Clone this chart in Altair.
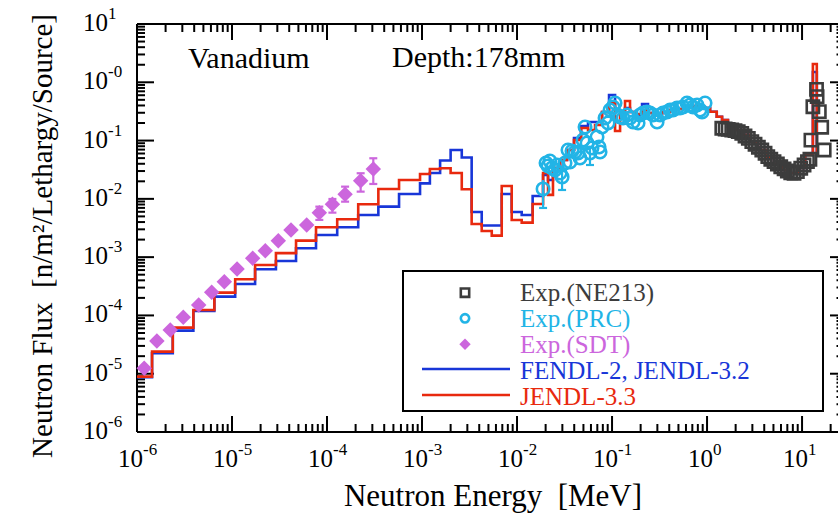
import altair as alt
import pandas as pd

# ---------------- data ----------------
# group boundaries of the calculated histograms [MeV]
edges = [1.0e-6, 1.44e-6, 2.38e-6, 3.92e-6, 6.52e-6, 1.08e-5, 1.75e-5, 2.90e-5, 4.72e-5, 7.66e-5,
         1.28e-4, 2.13e-4, 3.47e-4, 5.73e-4, 9.53e-4, 1.21e-3, 1.55e-3, 2.00e-3, 2.62e-3, 3.33e-3,
         4.25e-3, 5.42e-3, 6.90e-3, 8.79e-3, 0.0112, 0.0146, 0.0188, 0.0212, 0.0239, 0.0284,
         0.0336, 0.0398, 0.0472, 0.0559, 0.0662, 0.0785, 0.0930, 0.1076, 0.1215, 0.137,
         0.1546, 0.179, 0.207, 0.239, 0.284, 0.336, 0.408, 0.495, 0.601, 0.730,
         0.886, 1.076, 1.265, 1.439, 1.66, 1.97, 2.34, 2.84, 3.44, 4.18,
         5.07, 6.15, 7.47, 9.08, 10.8, 13.0, 14.3]

jendl33 = [8.9e-6, 2.39e-5, 6.18e-5, 1.24e-4, 2.46e-4, 4.18e-4, 7.35e-4, 1.17e-3, 1.92e-3, 3.26e-3,
           4.47e-3, 8.08e-3, 0.0148, 0.0211, 0.0267, 0.0326, 0.0335, 0.0278, 0.0146, 3.71e-3,
           2.81e-3, 2.34e-3, 0.0166, 4.35e-3, 3.91e-3, 8.18e-3, 0.0278, 0.0117, 0.0339, 0.0465,
           0.069, 0.102, 0.164, 0.152, 0.185, 0.310, 0.441, 0.146, 0.275, 0.478,
           0.310, 0.286, 0.335, 0.297, 0.286, 0.310, 0.335, 0.348, 0.377, 0.392,
           0.362, 0.313, 0.257, 0.226, 0.171, 0.152, 0.125, 0.0946, 0.069, 0.0523,
           0.0397, 0.0313, 0.0278, 0.0339, 0.0566, 2.06, 0.0566]

fendl2 = [8.7e-6, 2.25e-5, 5.48e-5, 1.19e-4, 2.10e-4, 3.47e-4, 6.20e-4, 8.61e-4, 1.42e-3, 2.40e-3,
          3.26e-3, 5.30e-3, 7.35e-3, 0.0121, 0.0184, 0.0278, 0.0456, 0.069, 0.0513, 5.96e-3,
          3.50e-3, 3.50e-3, 0.0121, 5.96e-3, 5.30e-3, 0.0112, 0.0257, 0.0211, 0.0339, 0.0465,
          0.069, 0.111, 0.178, 0.208, 0.208, 0.310, 0.605, 0.335, 0.297, 0.362,
          0.310, 0.275, 0.424, 0.297, 0.286, 0.310, 0.335, 0.348, 0.377, 0.392,
          0.362, 0.313, 0.257, 0.226, 0.171, 0.152, 0.125, 0.0946, 0.069, 0.0523,
          0.0397, 0.0313, 0.0278, 0.0339, 0.058, 1.50, 0.058]

ne213_E = [1.43, 1.55, 1.67, 1.82, 1.97, 2.13, 2.32, 2.51, 2.72, 2.96,
           3.20, 3.47, 3.77, 4.08, 4.36, 4.69, 5.07, 5.50, 5.97, 6.47,
           7.00, 7.60, 8.24, 8.93, 9.69, 10.5, 11.4, 12.1, 12.4, 13.0,
           14.2, 14.4, 15.2, 16.1, 17.1]
ne213_F = [0.163, 0.158, 0.156, 0.152, 0.148, 0.142, 0.133, 0.120, 0.109, 0.0957,
           0.0865, 0.0767, 0.0690, 0.0605, 0.0530, 0.0478, 0.0435, 0.0397, 0.0356, 0.0326,
           0.0301, 0.0281, 0.0275, 0.0293, 0.0335, 0.0381, 0.0435, 0.0478, 0.102, 0.381,
           0.758, 0.566, 0.313, 0.169, 0.069]

prc_E = [0.0188, 0.0202, 0.0212, 0.0222, 0.0233, 0.0251, 0.0264, 0.0284, 0.0298, 0.032,
         0.0344, 0.0361, 0.0379, 0.0408, 0.0439, 0.046, 0.0495, 0.052, 0.0546, 0.0586,
         0.0615, 0.0695, 0.073, 0.0748, 0.0785, 0.0844, 0.0908, 0.0953, 0.1025, 0.1076,
         0.113, 0.1215, 0.1305, 0.1438, 0.1546, 0.1664, 0.188, 0.197, 0.212, 0.233,
         0.251, 0.270, 0.298, 0.320, 0.344, 0.379, 0.408, 0.439, 0.483, 0.520,
         0.559, 0.615, 0.662, 0.712, 0.785, 0.844, 0.886, 0.953]
prc_F = [0.0148, 0.0413, 0.0367, 0.0447, 0.0339, 0.0313, 0.0381, 0.0278, 0.0238, 0.0413,
         0.069, 0.0430, 0.0663, 0.0637, 0.0612, 0.0503, 0.102, 0.171, 0.091, 0.0612,
         0.0747, 0.115, 0.0777, 0.0637, 0.171, 0.244, 0.200, 0.335, 0.377, 0.441,
         0.275, 0.254, 0.244, 0.275, 0.244, 0.208, 0.200, 0.275, 0.297, 0.310,
         0.297, 0.275, 0.208, 0.275, 0.297, 0.310, 0.335, 0.335, 0.362, 0.362,
         0.377, 0.441, 0.408, 0.377, 0.408, 0.335, 0.310, 0.441]
prc_err_E = [0.0188, 0.0298, 0.0586]
prc_err_lo = [0.00698, 0.0142, 0.0381]
prc_err_hi = [0.021, 0.034, 0.075]

sdt_E = [1.19e-6, 1.62e-6, 2.24e-6, 3.07e-6, 4.46e-6, 6.11e-6, 8.30e-6, 1.13e-5, 1.65e-5,
         2.24e-5, 3.07e-5, 4.18e-5, 6.11e-5, 8.30e-5, 1.14e-4, 1.55e-4, 2.26e-4, 3.07e-4]
sdt_F = [1.24e-5, 3.65e-5, 5.64e-5, 9.31e-5, 1.51e-4, 2.50e-4, 3.80e-4, 6.28e-4, 9.57e-4,
         1.29e-3, 1.92e-3, 2.93e-3, 3.56e-3, 5.80e-3, 8.07e-3, 0.0120, 0.0205, 0.0326]
sdt_err_E = [8.30e-5, 1.14e-4, 1.55e-4, 2.26e-4, 3.07e-4]
sdt_err_lo = [4.35e-3, 5.80e-3, 8.95e-3, 0.0133, 0.0180]
sdt_err_hi = [7.35e-3, 9.95e-3, 0.0162, 0.0275, 0.0497]

x_major = [1e-6, 1e-5, 1e-4, 1e-3, 1e-2, 1e-1, 1.0, 10.0]
x_exp = ["-6", "-5", "-4", "-3", "-2", "-1", "0", "1"]
y_major = [1e-6, 1e-5, 1e-4, 1e-3, 1e-2, 1e-1, 1.0, 10.0]
y_exp = ["-6", "-5", "-4", "-3", "-2", "-1", "-0", "1"]

# ---------------- styling ----------------
W, H = 701, 408
FONT = "Liberation Serif"
BLUE = "#1836d8"
RED = "#e8290e"
GREY = "#3c3c3c"
CYAN = "#22b4e6"
PURPLE = "#cc66dd"
SP = "\u00a0"

xs = alt.Scale(type="log", domain=[1e-6, 23.9], nice=False)
ys = alt.Scale(type="log", domain=[1e-6, 10], nice=False)


def xe(f):
    return alt.X(f"{f}:Q", scale=xs, axis=None)


def ye(f):
    return alt.Y(f"{f}:Q", scale=ys, axis=None)


one = pd.DataFrame({"k": [0]})


def txt(s, x, y, size, color="black", align="left", angle=0):
    return alt.Chart(one).mark_text(
        text=s, font=FONT, fontSize=size, color=color, align=align,
        baseline="alphabetic", angle=angle
    ).encode(x=alt.value(x), y=alt.value(y))


minor = [1, 2, 3, 4, 5, 6, 7, 8, 9]
x_minor = [k * d for d in x_major for k in minor[1:] if k * d <= 24]
y_minor = [k * d for d in y_major[:-1] for k in minor[1:]]

xmaj = pd.DataFrame({"v": x_major, "e": x_exp})
xmin = pd.DataFrame({"v": x_minor})
ymaj = pd.DataFrame({"v": y_major, "e": y_exp})
ymin = pd.DataFrame({"v": y_minor})

layers = []
rule = dict(color="black", strokeWidth=2)
# ticks: bottom / top
layers.append(alt.Chart(xmaj).mark_rule(**rule).encode(x=xe("v"), y=alt.value(H), y2=alt.value(H - 16)))
layers.append(alt.Chart(xmin).mark_rule(**rule).encode(x=xe("v"), y=alt.value(H), y2=alt.value(H - 8)))
layers.append(alt.Chart(xmaj).mark_rule(**rule).encode(x=xe("v"), y=alt.value(0), y2=alt.value(16)))
layers.append(alt.Chart(xmin).mark_rule(**rule).encode(x=xe("v"), y=alt.value(0), y2=alt.value(8)))
# ticks: left / right (right frame lies just beyond the picture)
layers.append(alt.Chart(ymaj).mark_rule(**rule).encode(y=ye("v"), x=alt.value(0), x2=alt.value(17)))
layers.append(alt.Chart(ymin).mark_rule(**rule).encode(y=ye("v"), x=alt.value(0), x2=alt.value(8)))
layers.append(alt.Chart(ymaj).mark_rule(**rule).encode(y=ye("v"), x=alt.value(W + 9), x2=alt.value(W - 8)))
layers.append(alt.Chart(ymin).mark_rule(**rule).encode(y=ye("v"), x=alt.value(W + 9), x2=alt.value(W - 1.5)))
# frame
layers.append(alt.Chart(one).mark_rule(**rule).encode(x=alt.value(0), x2=alt.value(W), y=alt.value(H)))
layers.append(alt.Chart(one).mark_rule(**rule).encode(x=alt.value(0), x2=alt.value(W), y=alt.value(0)))
layers.append(alt.Chart(one).mark_rule(**rule).encode(x=alt.value(0), y=alt.value(0), y2=alt.value(H)))

# tick labels
layers.append(alt.Chart(xmaj).mark_text(font=FONT, fontSize=25, align="right", baseline="alphabetic", dx=6)
              .encode(x=xe("v"), y=alt.value(H + 35), text=alt.value("10")))
layers.append(alt.Chart(xmaj).mark_text(font=FONT, fontSize=17, align="left", baseline="alphabetic", dx=6)
              .encode(x=xe("v"), y=alt.value(H + 23), text="e:N"))
layers.append(alt.Chart(ymaj).mark_text(font=FONT, fontSize=25, align="right", baseline="alphabetic", dy=7)
              .encode(y=ye("v"), x=alt.value(-29), text=alt.value("10")))
layers.append(alt.Chart(ymaj).mark_text(font=FONT, fontSize=17, align="left", baseline="alphabetic", dy=-5)
              .encode(y=ye("v"), x=alt.value(-29), text="e:N"))

# calculations (step histograms)
blue_df = pd.DataFrame({"E": edges, "F": fendl2})
red_df = pd.DataFrame({"E": edges, "F": jendl33})
layers.append(alt.Chart(blue_df).mark_line(interpolate="step-after", color=BLUE, strokeWidth=2.6)
              .encode(x=xe("E"), y=ye("F"), order="E:Q"))
layers.append(alt.Chart(red_df).mark_line(interpolate="step-after", color=RED, strokeWidth=2.6)
              .encode(x=xe("E"), y=ye("F"), order="E:Q"))

# experiments
ne_df = pd.DataFrame({"E": ne213_E, "F": ne213_F})
layers.append(alt.Chart(ne_df).mark_point(shape="square", filled=False, size=150, strokeWidth=2.6,
                                          color=GREY, opacity=1).encode(x=xe("E"), y=ye("F")))
prc_df = pd.DataFrame({"E": prc_E, "F": prc_F})
prc_err = pd.DataFrame({"E": prc_err_E, "lo": prc_err_lo, "hi": prc_err_hi})
layers.append(alt.Chart(prc_err).mark_rule(color=CYAN, strokeWidth=2.2).encode(x=xe("E"), y=ye("lo"), y2="hi:Q"))
layers.append(alt.Chart(prc_err).mark_tick(orient="horizontal", size=8, thickness=2.2, color=CYAN, opacity=1)
              .encode(x=xe("E"), y=ye("lo")))
layers.append(alt.Chart(prc_df).mark_point(shape="circle", filled=False, size=155, strokeWidth=2.6,
                                           color=CYAN, opacity=1).encode(x=xe("E"), y=ye("F")))
sdt_df = pd.DataFrame({"E": sdt_E, "F": sdt_F})
sdt_err = pd.DataFrame({"E": sdt_err_E, "lo": sdt_err_lo, "hi": sdt_err_hi})
layers.append(alt.Chart(sdt_err).mark_rule(color=PURPLE, strokeWidth=2.2).encode(x=xe("E"), y=ye("lo"), y2="hi:Q"))
layers.append(alt.Chart(sdt_err).mark_tick(orient="horizontal", size=8, thickness=2.2, color=PURPLE, opacity=1)
              .encode(x=xe("E"), y=ye("lo")))
layers.append(alt.Chart(sdt_err).mark_tick(orient="horizontal", size=8, thickness=2.2, color=PURPLE, opacity=1)
              .encode(x=xe("E"), y=ye("hi")))
layers.append(alt.Chart(sdt_df).mark_point(shape="diamond", filled=True, size=240, strokeWidth=0,
                                          color=PURPLE, opacity=1).encode(x=xe("E"), y=ye("F")))

# legend
layers.append(alt.Chart(one).mark_rect(fill="white", stroke="black", strokeWidth=2)
              .encode(x=alt.value(266), x2=alt.value(686), y=alt.value(247), y2=alt.value(387)))
layers.append(alt.Chart(one).mark_point(shape="square", filled=False, size=70, strokeWidth=2.6, color=GREY, opacity=1)
              .encode(x=alt.value(328), y=alt.value(268.7)))
layers.append(alt.Chart(one).mark_point(shape="circle", filled=False, size=70, strokeWidth=2.6, color=CYAN, opacity=1)
              .encode(x=alt.value(328), y=alt.value(294.3)))
layers.append(alt.Chart(one).mark_point(shape="diamond", filled=True, size=130, color=PURPLE, opacity=1)
              .encode(x=alt.value(328), y=alt.value(320.3)))
layers.append(alt.Chart(one).mark_rule(color=BLUE, strokeWidth=2.6)
              .encode(x=alt.value(285), x2=alt.value(373), y=alt.value(345)))
layers.append(alt.Chart(one).mark_rule(color=RED, strokeWidth=2.6)
              .encode(x=alt.value(285), x2=alt.value(373), y=alt.value(371)))
layers.append(txt("Exp.(NE213)", 383, 277, 25, GREY))
layers.append(txt("Exp.(PRC)", 383, 303, 25, CYAN))
layers.append(txt("Exp.(SDT)", 383, 329, 25, PURPLE))
layers.append(txt("FENDL-2, JENDL-3.2", 383, 355, 25, BLUE))
layers.append(txt("JENDL-3.3", 383, 381, 25, RED))

# annotations and titles
layers.append(txt("Vanadium", 51, 44, 30))
layers.append(txt("Depth:178mm", 255, 43, 30))
layers.append(txt(f"Neutron Energy{SP}{SP}[MeV]", 356, 482, 31, align="center"))
layers.append(txt(f"Neutron Flux{SP}{SP}[n/m\u00b2/Lethargy/Source]", -85, 212, 29, align="center", angle=270))

chart = alt.layer(*layers).properties(
    width=W, height=H,
    padding={"left": 137, "top": 24, "right": 0, "bottom": 84},
    autosize=alt.AutoSizeParams(type="none"),
).configure_view(stroke=None)

chart.save("out.html", embed_options={"renderer": "svg", "actions": False})
